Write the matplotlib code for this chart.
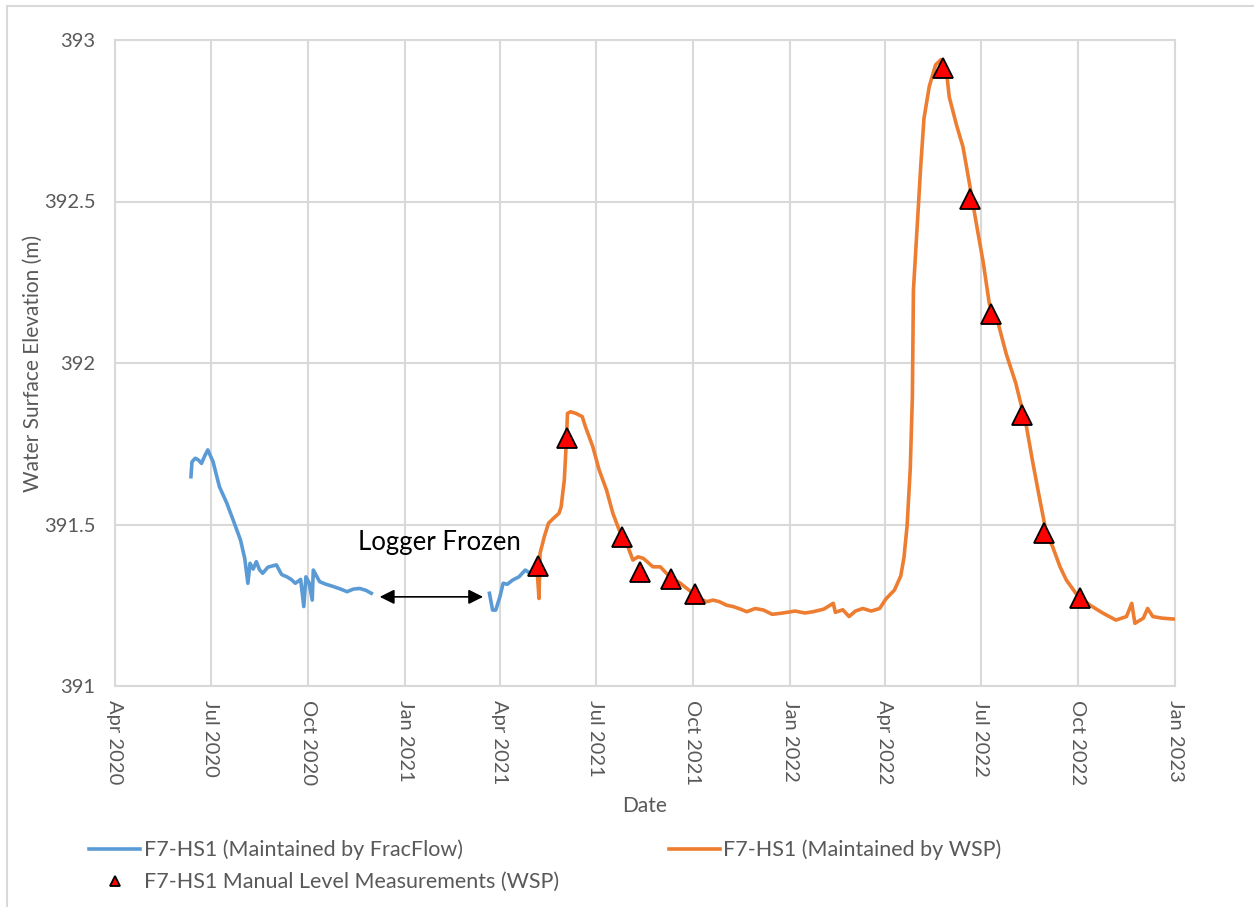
import numpy as np
import pandas as pd
import matplotlib
matplotlib.use("Agg")
import matplotlib.pyplot as plt
import matplotlib.dates as mdates
from matplotlib.ticker import FuncFormatter, MultipleLocator
from matplotlib.patches import Rectangle

plt.rcParams['font.family'] = ['Lato', 'DejaVu Sans']

#---data---

# logger maintained by FracFlow, before the freeze
fracflow_a_dates = ["2020-06-12", "2020-06-13", "2020-06-16", "2020-06-19", "2020-06-22", "2020-06-25",
                    "2020-06-28", "2020-07-03", "2020-07-09", "2020-07-16", "2020-07-22", "2020-07-29",
                    "2020-08-02", "2020-08-05", "2020-08-07", "2020-08-10", "2020-08-13", "2020-08-16",
                    "2020-08-19", "2020-08-24", "2020-09-01", "2020-09-06", "2020-09-11", "2020-09-15",
                    "2020-09-19", "2020-09-24", "2020-09-27", "2020-09-29", "2020-10-02", "2020-10-05",
                    "2020-10-06", "2020-10-12", "2020-10-18", "2020-10-25", "2020-11-01", "2020-11-07",
                    "2020-11-13", "2020-11-19", "2020-11-25", "2020-11-30"]
fracflow_a_level = [391.648, 391.694, 391.705, 391.700, 391.689, 391.712,
                    391.731, 391.694, 391.617, 391.566, 391.514, 391.452,
                    391.395, 391.318, 391.380, 391.362, 391.385, 391.360,
                    391.349, 391.368, 391.375, 391.345, 391.338, 391.330,
                    391.318, 391.330, 391.246, 391.338, 391.320, 391.266,
                    391.359, 391.323, 391.315, 391.308, 391.300, 391.292,
                    391.300, 391.302, 391.296, 391.287]

# FracFlow logger after the freeze
fracflow_b_dates = ["2021-03-22", "2021-03-25", "2021-03-28", "2021-04-01", "2021-04-04", "2021-04-08",
                    "2021-04-13", "2021-04-19", "2021-04-25", "2021-04-29", "2021-05-03"]
fracflow_b_level = [391.287, 391.235, 391.235, 391.277, 391.318, 391.315,
                    391.328, 391.338, 391.359, 391.350, 391.362]

# logger maintained by WSP
wsp_dates = ["2021-05-06", "2021-05-08", "2021-05-09", "2021-05-13", "2021-05-17", "2021-05-22",
             "2021-05-27", "2021-05-29", "2021-06-01", "2021-06-03", "2021-06-04", "2021-06-07",
             "2021-06-12", "2021-06-18", "2021-06-21", "2021-06-28", "2021-07-04", "2021-07-11",
             "2021-07-17", "2021-07-23", "2021-07-30", "2021-08-05", "2021-08-10", "2021-08-15",
             "2021-08-24", "2021-08-31", "2021-09-09", "2021-09-19", "2021-10-01", "2021-10-08",
             "2021-10-14", "2021-10-20", "2021-10-26", "2021-11-02", "2021-11-08", "2021-11-15",
             "2021-11-21", "2021-11-29", "2021-12-07", "2021-12-15", "2021-12-23", "2022-01-06",
             "2022-01-15", "2022-01-23", "2022-02-02", "2022-02-11", "2022-02-13", "2022-02-20",
             "2022-02-26", "2022-03-04", "2022-03-11", "2022-03-19", "2022-03-27",
             "2022-04-02", "2022-04-10", "2022-04-16", "2022-04-19", "2022-04-22", "2022-04-25",
             "2022-04-27", "2022-04-28", "2022-05-02", "2022-05-05", "2022-05-08", "2022-05-13",
             "2022-05-19", "2022-05-24", "2022-05-29", "2022-06-01", "2022-06-08", "2022-06-14",
             "2022-06-20", "2022-06-27", "2022-07-03", "2022-07-09", "2022-07-17", "2022-07-25",
             "2022-08-03", "2022-08-13", "2022-08-19", "2022-08-26", "2022-09-01", "2022-09-07",
             "2022-09-14", "2022-09-20", "2022-09-29", "2022-10-12", "2022-10-25", "2022-11-06",
             "2022-11-16", "2022-11-21", "2022-11-24", "2022-12-02", "2022-12-06", "2022-12-11",
             "2022-12-20", "2023-01-01"]
wsp_level = [391.369, 391.271, 391.411, 391.462, 391.504, 391.520,
             391.535, 391.555, 391.638, 391.762, 391.844, 391.849,
             391.844, 391.834, 391.803, 391.741, 391.669, 391.607,
             391.535, 391.483, 391.442, 391.390, 391.400, 391.395,
             391.369, 391.369, 391.338, 391.318, 391.287, 391.270,
             391.261, 391.266, 391.261, 391.250, 391.246, 391.238,
             391.230, 391.240, 391.235, 391.222, 391.225, 391.232,
             391.226, 391.230, 391.238, 391.256, 391.228, 391.236,
             391.215, 391.232, 391.240, 391.232, 391.240,
             391.270, 391.297, 391.341, 391.397, 391.496, 391.673,
             391.895, 392.226, 392.447, 392.613, 392.757, 392.856,
             392.923, 392.939, 392.911, 392.823, 392.735, 392.669,
             392.558, 392.425, 392.315, 392.183, 392.127, 392.028,
             391.938, 391.806, 391.695, 391.574, 391.474, 391.431,
             391.369, 391.328, 391.287, 391.251, 391.225, 391.204,
             391.215, 391.256, 391.194, 391.210, 391.240, 391.215,
             391.210, 391.207]

# manual level measurements (WSP)
manual_dates = ["2021-05-07", "2021-06-04", "2021-07-26", "2021-08-12", "2021-09-10", "2021-10-03",
                "2022-05-26", "2022-06-21", "2022-07-11", "2022-08-09", "2022-08-30", "2022-10-03"]
manual_level = [391.372, 391.768, 391.461, 391.353, 391.331, 391.285,
                392.912, 392.507, 392.152, 391.840, 391.475, 391.272]

frozen_start = "2020-12-08"
frozen_end = "2021-03-16"
frozen_level = 391.276

#---plot---
text_col = "#595959"
grid_col = "#d9d9d9"

fig = plt.figure(figsize=(12.54, 9.07), dpi=100)
ax = fig.add_axes([115 / 1254, 1 - 686 / 907, 1060 / 1254, 646 / 907])

l1, = ax.plot(pd.to_datetime(fracflow_a_dates), fracflow_a_level, color="#5B9BD5", lw=2.6,
              label="F7-HS1 (Maintained by FracFlow)", zorder=3)
ax.plot(pd.to_datetime(fracflow_b_dates), fracflow_b_level, color="#5B9BD5", lw=2.6, zorder=3)
l2, = ax.plot(pd.to_datetime(wsp_dates), wsp_level, color="#ED7D31", lw=2.6,
              label="F7-HS1 (Maintained by WSP)", zorder=4)
l3, = ax.plot(pd.to_datetime(manual_dates), manual_level, ls="none", marker="^", ms=15,
              mfc="#FF0000", mec="black", mew=1.3, zorder=5,
              label="F7-HS1 Manual Level Measurements (WSP)")

ax.annotate("", xy=(pd.Timestamp(frozen_start), frozen_level),
            xytext=(pd.Timestamp(frozen_end), frozen_level),
            arrowprops=dict(arrowstyle="<|-|>", color="black", lw=1.2, mutation_scale=22,
                            shrinkA=0, shrinkB=0), zorder=6)
ax.text(pd.Timestamp("2021-02-03"), 391.443, "Logger Frozen", fontsize=18.5, color="black",
        ha="center", va="center")

ax.set_xlim(pd.Timestamp("2020-04-01"), pd.Timestamp("2023-01-01"))
ax.set_ylim(391, 393)
ax.xaxis.set_major_locator(mdates.MonthLocator(bymonth=[1, 4, 7, 10]))
ax.xaxis.set_major_formatter(mdates.DateFormatter("%b %Y"))
ax.yaxis.set_major_locator(MultipleLocator(0.5))
ax.yaxis.set_major_formatter(FuncFormatter(lambda v, p: f"{v:g}"))
ax.grid(True, color=grid_col, lw=1.5)
ax.set_axisbelow(True)
for s in ax.spines.values():
    s.set_color(grid_col)
    s.set_linewidth(1.5)
ax.tick_params(length=0, labelsize=14.5, labelcolor=text_col)
ax.tick_params(axis="x", pad=10)
ax.tick_params(axis="y", pad=14)
for lab in ax.get_xticklabels():
    lab.set_rotation(-90)
    lab.set_ha("center")
    lab.set_va("top")

ax.set_xlabel("Date", fontsize=15, color=text_col, labelpad=8)
ax.set_ylabel("Water Surface Elevation (m)", fontsize=15, color=text_col, labelpad=1)

leg = fig.legend(handles=[l1, l3, l2], ncol=2, loc="upper left", bbox_to_anchor=(78 / 1254, 1 - 829 / 907),
                 frameon=False, fontsize=15.5, labelcolor=text_col, markerscale=0.5, borderpad=0,
                 handlelength=2.4, handletextpad=0.15, columnspacing=5.1, labelspacing=0.55)

fig.patches.append(Rectangle((7 / 1254, -0.1), 2, 1 - 6 / 907 + 0.1, transform=fig.transFigure,
                             fill=False, ec=grid_col, lw=1.5))

fig.savefig("out.png", dpi=100)
